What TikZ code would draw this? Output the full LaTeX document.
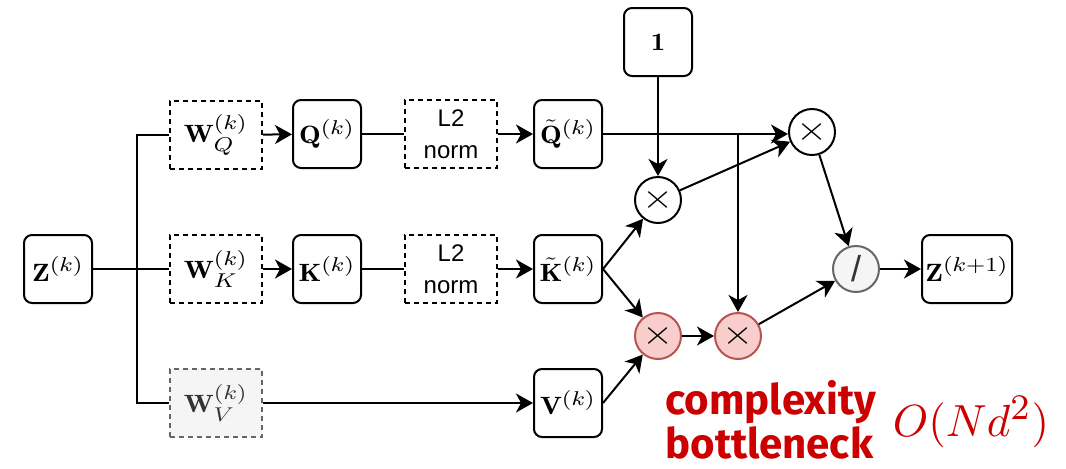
\documentclass[tikz,border=0pt]{standalone}
\usepackage{graphicx}
\usepackage{fontspec}
\setsansfont{Liberation Sans}
\newfontfamily\bnfont{Fira Sans}
\DeclareMathSizes{10}{10}{8}{6}
\usetikzlibrary{arrows.meta}
\definecolor{pinkfill}{HTML}{F8CECC}
\definecolor{pinkline}{HTML}{B85450}
\definecolor{grayfill}{HTML}{F5F5F5}
\definecolor{grayline}{HTML}{666666}
\definecolor{bnred}{HTML}{CC0000}
\newcommand{\mlbl}[1]{\scalebox{1.45}[1.25]{$#1$}}
\newcommand{\opx}{\scalebox{2}[1.7]{$\times$}}
\begin{document}
\begin{tikzpicture}[x=.5pt,y=-.5pt,
                    line/.style={line width=1pt},
                    arr/.style={line,-{Stealth[length=8.5pt,width=9.5pt,inset=2.5pt]}},
                    box/.style={draw,line width=1pt,rounded corners=4pt,minimum width=34pt,minimum height=34pt,inner sep=0pt},
                    wbox/.style={draw,line width=1pt,dash pattern=on 2.5pt off 2pt,minimum width=46pt,minimum height=34pt,inner sep=0pt},
                    op/.style={circle,draw,line width=1pt,minimum size=23pt,inner sep=0pt}]
 \useasboundingbox (0,0) rectangle (1066,468);
 \node[box] (z) at (58,269) {\mlbl{\mathbf{Z}^{(k)}}};
 \node[wbox] (wq) at (216,135) {\mlbl{\mathbf{W}_Q^{(k)}}};
 \node[wbox] (wk) at (216,269) {\mlbl{\mathbf{W}_K^{(k)}}};
 \node[wbox,draw=grayline,fill=grayfill,text=black!80] (wv) at (216,403) {\mlbl{\mathbf{W}_V^{(k)}}};
 \node[box] (q) at (327,134) {\mlbl{\mathbf{Q}^{(k)}}};
 \node[box] (k) at (327,269) {\mlbl{\mathbf{K}^{(k)}}};
 \node[wbox,align=center,font=\sffamily\fontsize{12}{16}\selectfont] (nq) at (451,134) {L2\\norm};
 \node[wbox,align=center,font=\sffamily\fontsize{12}{16}\selectfont] (nk) at (451,269) {L2\\norm};
 \node[box] (qt) at (568,134) {\mlbl{\tilde{\mathbf{Q}}^{(k)}}};
 \node[box] (kt) at (568,269) {\mlbl{\tilde{\mathbf{K}}^{(k)}}};
 \node[box] (v) at (568,403) {\mlbl{\mathbf{V}^{(k)}}};
 \node[box] (one) at (658,42) {\mlbl{\mathbf{1}}};
 \node[op] (m1) at (658,200) {\opx};
 \node[op] (m2) at (812,132) {\opx};
 \node[op,draw=pinkline,fill=pinkfill] (p1) at (658,336) {\opx};
 \node[op,draw=pinkline,fill=pinkfill] (p2) at (738,336) {\opx};
 \node[op,draw=grayline,fill=grayfill,text=black!80,font=\sffamily\fontsize{18}{20}\selectfont] (dv) at (856,269) {/};
 \node[box,minimum width=45pt] (zn) at (967,269) {\mlbl{\mathbf{Z}^{(k+1)}}};
 \coordinate (br) at (137,269);
 \draw[line] (z) -- (wk);
 \draw[line] (wq.west) -- (wq.west -| br) -- (wv.west -| br) -- (wv.west);
 \draw[arr] (wq) -- (q);
 \draw[arr] (wk) -- (k);
 \draw[line] (q) -- (nq);
 \draw[line] (k) -- (nk);
 \draw[arr] (nq) -- (qt);
 \draw[arr] (nk) -- (kt);
 \draw[arr] (wv) -- (v);
 \draw[arr] (qt.east) -- (m2.west |- qt.east);
 \draw[arr] (qt -| p2) -- (p2);
 \draw[arr] (one) -- (m1);
 \draw[arr] (kt.east) -- (m1);
 \draw[arr] (kt.east) -- (p1);
 \draw[arr] (v.east) -- (p1);
 \draw[arr] (p1) -- (p2);
 \draw[arr] (p2) -- (dv);
 \draw[arr] (m1) -- (m2);
 \draw[arr] (m2) -- (dv);
 \draw[arr] (dv) -- (zn);
 \node[anchor=west,align=left,text=bnred,inner sep=0pt,font=\bnfont\bfseries\fontsize{21}{22}\selectfont] (cb) at (665,420) {complexity\\bottleneck};
 \node[text=bnred] (cx) at (971,422) {\scalebox{2.25}{$O(Nd^2)$}};
\end{tikzpicture}
\end{document}
